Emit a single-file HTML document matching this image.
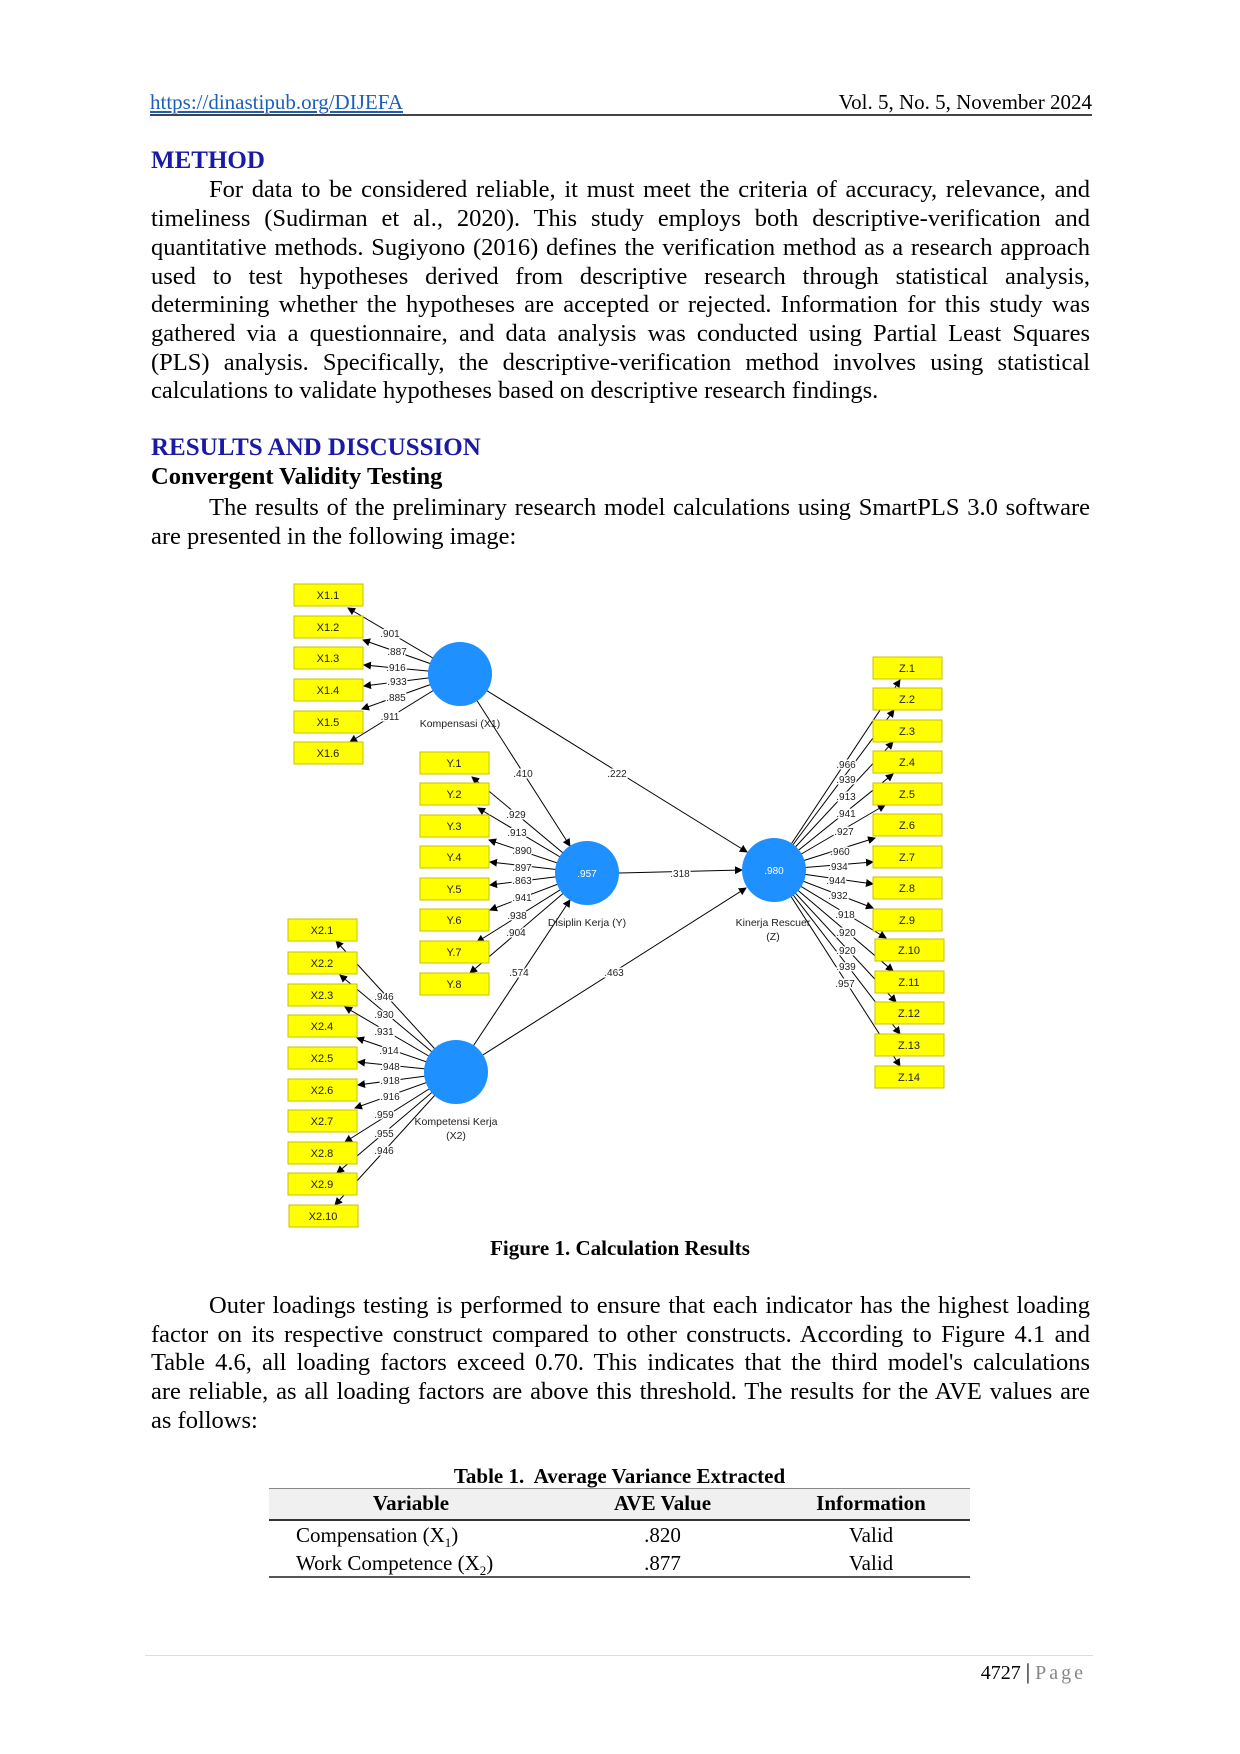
<!DOCTYPE html>
<html><head><meta charset="utf-8">
<style>
html,body{margin:0;padding:0;background:#fff;}
#pg{position:relative;width:1240px;height:1754px;overflow:hidden;font-family:"Liberation Serif",serif;color:#000;}
.a{position:absolute;white-space:nowrap;}
.ln{position:absolute;left:151px;width:939px;height:29px;line-height:29px;font-size:24.5px;text-align:justify;text-align-last:justify;white-space:normal;overflow:hidden;}
.ll{text-align-last:left;}
.h{font-weight:bold;color:#1a1aa6;font-size:25px;}
svg text{font-family:"Liberation Sans",sans-serif;}
</style></head><body>
<div id="pg">
<div class="a" style="left:150px;top:90px;font-size:21px;color:#1b5fb8;text-decoration:underline;line-height:24px;">https://dinastipub.org/DIJEFA</div>
<div class="a" style="right:148px;top:90px;font-size:21px;line-height:24px;">Vol. 5, No. 5, November 2024</div>
<div class="a" style="left:150px;top:114px;width:942px;height:2px;background:#444;"></div>

<div class="a h" style="left:151px;top:146px;line-height:29px;">METHOD</div>
<div class="ln" style="top:175px;padding-left:58px;width:881px;">For data to be considered reliable, it must meet the criteria of accuracy, relevance, and</div>
<div class="ln" style="top:204px;">timeliness (Sudirman et al., 2020). This study employs both descriptive-verification and</div>
<div class="ln" style="top:233px;">quantitative methods. Sugiyono (2016) defines the verification method as a research approach</div>
<div class="ln" style="top:262px;">used to test hypotheses derived from descriptive research through statistical analysis,</div>
<div class="ln" style="top:290px;">determining whether the hypotheses are accepted or rejected. Information for this study was</div>
<div class="ln" style="top:319px;">gathered via a questionnaire, and data analysis was conducted using Partial Least Squares</div>
<div class="ln" style="top:348px;">(PLS) analysis. Specifically, the descriptive-verification method involves using statistical</div>
<div class="ln ll" style="top:376px;">calculations to validate hypotheses based on descriptive research findings.</div>

<div class="a h" style="left:151px;top:433px;line-height:29px;">RESULTS AND DISCUSSION</div>
<div class="a" style="left:151px;top:462px;line-height:29px;font-size:24.5px;font-weight:bold;">Convergent Validity Testing</div>
<div class="ln" style="top:493px;padding-left:58px;width:881px;">The results of the preliminary research model calculations using SmartPLS 3.0 software</div>
<div class="ln ll" style="top:522px;">are presented in the following image:</div>

<svg class="a" style="left:0;top:0" width="1240" height="1754" viewBox="0 0 1240 1754">
<defs><marker id="ar" markerWidth="8" markerHeight="8" refX="7" refY="4" orient="auto" markerUnits="userSpaceOnUse"><path d="M0,0 L8,4 L0,8 z" fill="#000"/></marker></defs>
<g stroke="#000" stroke-width="1" marker-end="url(#ar)" fill="none">
<line x1="460" y1="674" x2="348" y2="608"/>
<line x1="460" y1="674" x2="363" y2="640"/>
<line x1="460" y1="674" x2="364" y2="665"/>
<line x1="460" y1="674" x2="364" y2="686"/>
<line x1="460" y1="674" x2="362" y2="709"/>
<line x1="460" y1="674" x2="350" y2="742"/>
<line x1="587" y1="873" x2="472" y2="777"/>
<line x1="587" y1="873" x2="478" y2="808"/>
<line x1="587" y1="873" x2="489" y2="840"/>
<line x1="587" y1="873" x2="490" y2="862"/>
<line x1="587" y1="873" x2="490" y2="885"/>
<line x1="587" y1="873" x2="490" y2="910"/>
<line x1="587" y1="873" x2="477" y2="942"/>
<line x1="587" y1="873" x2="470" y2="973"/>
<line x1="774" y1="870" x2="900" y2="680"/>
<line x1="774" y1="870" x2="894" y2="710"/>
<line x1="774" y1="870" x2="893" y2="742"/>
<line x1="774" y1="870" x2="893" y2="774"/>
<line x1="774" y1="870" x2="885" y2="805"/>
<line x1="774" y1="870" x2="875" y2="838"/>
<line x1="774" y1="870" x2="873" y2="862"/>
<line x1="774" y1="870" x2="873" y2="884"/>
<line x1="774" y1="870" x2="873" y2="908"/>
<line x1="774" y1="870" x2="886" y2="938"/>
<line x1="774" y1="870" x2="893" y2="971"/>
<line x1="774" y1="870" x2="896" y2="1002"/>
<line x1="774" y1="870" x2="900" y2="1034"/>
<line x1="774" y1="870" x2="900" y2="1066"/>
<line x1="456" y1="1072" x2="336" y2="941"/>
<line x1="456" y1="1072" x2="340" y2="975"/>
<line x1="456" y1="1072" x2="345" y2="1007"/>
<line x1="456" y1="1072" x2="357" y2="1038"/>
<line x1="456" y1="1072" x2="358" y2="1062"/>
<line x1="456" y1="1072" x2="358" y2="1085"/>
<line x1="456" y1="1072" x2="355" y2="1108"/>
<line x1="456" y1="1072" x2="345" y2="1142"/>
<line x1="456" y1="1072" x2="337" y2="1173"/>
<line x1="456" y1="1072" x2="335" y2="1205"/>
<line x1="460" y1="674" x2="570" y2="846"/>
<line x1="460" y1="674" x2="747" y2="852"/>
<line x1="619" y1="873" x2="742" y2="870"/>
<line x1="456" y1="1072" x2="570" y2="900"/>
<line x1="456" y1="1072" x2="746" y2="888"/>
</g>
<g fill="#1e90ff">
<circle cx="460" cy="674" r="32"/>
<circle cx="587" cy="873" r="32"/>
<circle cx="774" cy="870" r="32"/>
<circle cx="456" cy="1072" r="32"/>
</g>
<g fill="#fff" font-size="10" text-anchor="middle">
<text x="587" y="877">.957</text>
<text x="774" y="874">.980</text>
</g>
<g fill="#ffff00" stroke="#c8c000" stroke-width="1">
<rect x="294" y="584" width="69" height="22"/><rect x="294" y="616" width="69" height="22"/><rect x="294" y="647" width="69" height="22"/><rect x="294" y="679" width="69" height="22"/><rect x="294" y="711" width="69" height="22"/><rect x="294" y="742" width="69" height="22"/>
<rect x="420" y="752" width="69" height="22"/><rect x="420" y="783" width="69" height="22"/><rect x="420" y="815" width="69" height="22"/><rect x="420" y="846" width="69" height="22"/><rect x="420" y="878" width="69" height="22"/><rect x="420" y="909" width="69" height="22"/><rect x="420" y="941" width="69" height="22"/><rect x="420" y="973" width="69" height="22"/>
<rect x="873" y="657" width="69" height="22"/><rect x="873" y="688" width="69" height="22"/><rect x="873" y="720" width="69" height="22"/><rect x="873" y="751" width="69" height="22"/><rect x="873" y="783" width="69" height="22"/><rect x="873" y="814" width="69" height="22"/><rect x="873" y="846" width="69" height="22"/><rect x="873" y="877" width="69" height="22"/><rect x="873" y="909" width="69" height="22"/><rect x="875" y="939" width="69" height="22"/><rect x="875" y="971" width="69" height="22"/><rect x="875" y="1002" width="69" height="22"/><rect x="875" y="1034" width="69" height="22"/><rect x="875" y="1066" width="69" height="22"/>
<rect x="288" y="919" width="69" height="22"/><rect x="288" y="952" width="69" height="22"/><rect x="288" y="984" width="69" height="22"/><rect x="288" y="1015" width="69" height="22"/><rect x="288" y="1047" width="69" height="22"/><rect x="288" y="1079" width="69" height="22"/><rect x="288" y="1110" width="69" height="22"/><rect x="288" y="1142" width="69" height="22"/><rect x="288" y="1173" width="69" height="22"/><rect x="289" y="1205" width="69" height="22"/>
</g>
<g font-size="11" text-anchor="middle" fill="#222">
<text x="328" y="599">X1.1</text><text x="328" y="631">X1.2</text><text x="328" y="662">X1.3</text><text x="328" y="694">X1.4</text><text x="328" y="726">X1.5</text><text x="328" y="757">X1.6</text>
<text x="454" y="767">Y.1</text><text x="454" y="798">Y.2</text><text x="454" y="830">Y.3</text><text x="454" y="861">Y.4</text><text x="454" y="893">Y.5</text><text x="454" y="924">Y.6</text><text x="454" y="956">Y.7</text><text x="454" y="988">Y.8</text>
<text x="907" y="672">Z.1</text><text x="907" y="703">Z.2</text><text x="907" y="735">Z.3</text><text x="907" y="766">Z.4</text><text x="907" y="798">Z.5</text><text x="907" y="829">Z.6</text><text x="907" y="861">Z.7</text><text x="907" y="892">Z.8</text><text x="907" y="924">Z.9</text><text x="909" y="954">Z.10</text><text x="909" y="986">Z.11</text><text x="909" y="1017">Z.12</text><text x="909" y="1049">Z.13</text><text x="909" y="1081">Z.14</text>
<text x="322" y="934">X2.1</text><text x="322" y="967">X2.2</text><text x="322" y="999">X2.3</text><text x="322" y="1030">X2.4</text><text x="322" y="1062">X2.5</text><text x="322" y="1094">X2.6</text><text x="322" y="1125">X2.7</text><text x="322" y="1157">X2.8</text><text x="322" y="1188">X2.9</text><text x="323" y="1220">X2.10</text>
</g>
<g font-size="10" text-anchor="middle" fill="#222" stroke="#fff" stroke-width="3" paint-order="stroke">
<text x="390" y="637">.901</text><text x="397" y="655">.887</text><text x="396" y="671">.916</text><text x="397" y="685">.933</text><text x="396" y="701">.885</text><text x="390" y="720">.911</text>
<text x="516" y="818">.929</text><text x="517" y="836">.913</text><text x="522" y="854">.890</text><text x="522" y="871">.897</text><text x="522" y="884">.863</text><text x="522" y="901">.941</text><text x="517" y="919">.938</text><text x="516" y="936">.904</text>
<text x="846" y="768">.966</text><text x="846" y="783">.939</text><text x="846" y="800">.913</text><text x="846" y="817">.941</text><text x="844" y="835">.927</text><text x="840" y="855">.960</text><text x="838" y="870">.934</text><text x="836" y="884">.944</text><text x="838" y="899">.932</text><text x="845" y="918">.918</text><text x="846" y="936">.920</text><text x="846" y="954">.920</text><text x="846" y="970">.939</text><text x="845" y="987">.957</text>
<text x="384" y="1000">.946</text><text x="384" y="1018">.930</text><text x="384" y="1035">.931</text><text x="389" y="1054">.914</text><text x="390" y="1070">.948</text><text x="390" y="1084">.918</text><text x="390" y="1100">.916</text><text x="384" y="1118">.959</text><text x="384" y="1137">.955</text><text x="384" y="1154">.946</text>
<text x="523" y="777">.410</text><text x="617" y="777">.222</text><text x="680" y="877">.318</text><text x="519" y="976">.574</text><text x="614" y="976">.463</text>
</g>
<g font-size="10.5" text-anchor="middle" fill="#222">
<text x="460" y="727">Kompensasi (X1)</text>
<text x="587" y="926">Disiplin Kerja (Y)</text>
<text x="773" y="926">Kinerja Rescuer</text><text x="773" y="940">(Z)</text>
<text x="456" y="1125">Kompetensi Kerja</text><text x="456" y="1139">(X2)</text>
</g>
</svg>

<div class="a" style="left:0;width:1240px;text-align:center;top:1236px;font-size:21px;font-weight:bold;line-height:24px;">Figure 1. Calculation Results</div>

<div class="ln" style="top:1291px;padding-left:58px;width:881px;">Outer loadings testing is performed to ensure that each indicator has the highest loading</div>
<div class="ln" style="top:1320px;">factor on its respective construct compared to other constructs. According to Figure 4.1 and</div>
<div class="ln" style="top:1348px;">Table 4.6, all loading factors exceed 0.70. This indicates that the third model's calculations</div>
<div class="ln" style="top:1377px;">are reliable, as all loading factors are above this threshold. The results for the AVE values are</div>
<div class="ln ll" style="top:1406px;">as follows:</div>

<div class="a" style="left:269px;width:701px;text-align:center;top:1465px;font-size:21px;font-weight:bold;line-height:22px;">Table 1.&nbsp; Average Variance Extracted</div>
<div class="a" style="left:269px;top:1488px;width:701px;height:30px;background:#f0f0f0;border-top:1.5px solid #888;border-bottom:2px solid #333;"></div>
<div class="a" style="left:269px;top:1576px;width:701px;height:1.5px;background:#555;"></div>
<div class="a" style="left:269px;width:284px;text-align:center;top:1491px;font-size:21px;font-weight:bold;line-height:24px;">Variable</div>
<div class="a" style="left:550px;width:225px;text-align:center;top:1491px;font-size:21px;font-weight:bold;line-height:24px;">AVE Value</div>
<div class="a" style="left:772px;width:198px;text-align:center;top:1491px;font-size:21px;font-weight:bold;line-height:24px;">Information</div>
<div class="a" style="left:296px;top:1523px;font-size:21px;line-height:24px;">Compensation (X<sub style="font-size:13px">1</sub>)</div>
<div class="a" style="left:296px;top:1551px;font-size:21px;line-height:24px;">Work Competence (X<sub style="font-size:13px">2</sub>)</div>
<div class="a" style="left:550px;width:225px;text-align:center;top:1523px;font-size:21px;line-height:24px;">.820</div>
<div class="a" style="left:550px;width:225px;text-align:center;top:1551px;font-size:21px;line-height:24px;">.877</div>
<div class="a" style="left:772px;width:198px;text-align:center;top:1523px;font-size:21px;line-height:24px;">Valid</div>
<div class="a" style="left:772px;width:198px;text-align:center;top:1551px;font-size:21px;line-height:24px;">Valid</div>

<div class="a" style="left:145px;top:1655px;width:948px;height:1px;background:#ddd;"></div>
<div class="a" style="right:154px;top:1660px;font-size:20px;line-height:24px;">4727 <span style="font-size:22px">|</span> <span style="color:#888;letter-spacing:3px;">Page</span></div>
</div>
</body></html>
